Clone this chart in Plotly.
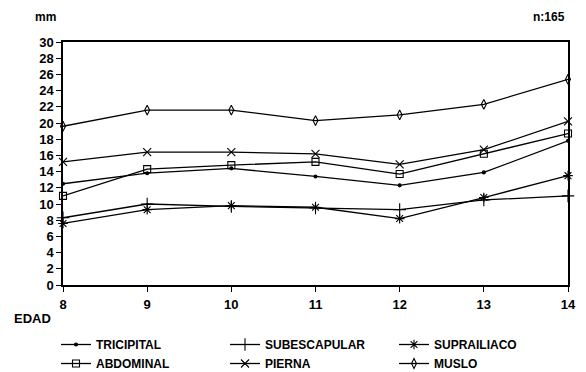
import plotly.graph_objects as go

edad = [8, 9, 10, 11, 12, 13, 14]
tricipital = [12.5, 13.8, 14.4, 13.4, 12.3, 13.9, 17.8]
subescapular = [8.3, 10.0, 9.7, 9.5, 9.3, 10.5, 11.0]
suprailiaco = [7.6, 9.3, 9.8, 9.6, 8.2, 10.8, 13.5]
abdominal = [11.0, 14.3, 14.8, 15.2, 13.7, 16.2, 18.7]
pierna = [15.2, 16.4, 16.4, 16.2, 14.9, 16.7, 20.2]
muslo = [19.6, 21.6, 21.6, 20.3, 21.0, 22.3, 25.4]

y_ticks = list(range(0, 31, 2))

series = [
    ("TRICIPITAL", tricipital, "circle", 3),
    ("SUBESCAPULAR", subescapular, "cross-thin-open", 9),
    ("SUPRAILIACO", suprailiaco, "asterisk-open", 8),
    ("ABDOMINAL", abdominal, "square-open", 7),
    ("PIERNA", pierna, "x-thin-open", 8),
    ("MUSLO", muslo, "diamond-tall-open", 7),
]

FONT = "Liberation Sans, Arial, sans-serif"

fig = go.Figure()
for name, vals, sym, size in series:
    fig.add_trace(go.Scatter(
        x=edad, y=vals, name=name, mode="lines+markers",
        line=dict(color="black", width=1.3),
        marker=dict(symbol=sym, size=size, color="black",
                    line=dict(color="black", width=1.1)),
        cliponaxis=False,
    ))

W, H = 586, 372
L, R, T, B = 63, 18, 42, 87
pw, ph = W - L - R, H - T - B

def px(x):
    return (x - L) / pw

def py(y):
    return (H - B - y) / ph

fig.update_layout(
    width=W, height=H,
    margin=dict(l=L, r=R, t=T, b=B, autoexpand=False),
    paper_bgcolor="white", plot_bgcolor="white",
    font=dict(family=FONT, size=12, color="black"),
    showlegend=True,
    legend=dict(
        orientation="h", x=px(56), y=py(330), xanchor="left", yanchor="top",
        entrywidth=124, entrywidthmode="pixels",
        font=dict(family=FONT, size=12, color="black", weight="bold"),
        bgcolor="rgba(0,0,0,0)", traceorder="normal",
    ),
    xaxis=dict(
        range=[8, 14], tickvals=edad, ticktext=[str(v) for v in edad],
        showline=True, linecolor="black", linewidth=1.5, mirror=True,
        ticks="outside", ticklen=5, tickcolor="black",
        showgrid=False, zeroline=False, ticklabelstandoff=2,
        tickfont=dict(family=FONT, size=13, weight="bold"),
    ),
    yaxis=dict(
        range=[0, 30], tickvals=y_ticks,
        showline=True, linecolor="black", linewidth=1.5, mirror=True,
        ticks="outside", ticklen=5, tickcolor="black",
        showgrid=False, zeroline=False,
        tickfont=dict(family=FONT, size=13, weight="bold"),
    ),
    annotations=[
        dict(text="<b>mm</b>", x=px(33), y=py(17), xref="paper", yref="paper",
             xanchor="left", yanchor="middle", showarrow=False,
             font=dict(family=FONT, size=12)),
        dict(text="<b>n:165</b>", x=px(567), y=py(17), xref="paper", yref="paper",
             xanchor="right", yanchor="middle", showarrow=False,
             font=dict(family=FONT, size=12)),
        dict(text="<b>EDAD</b>", x=px(12), y=py(318), xref="paper", yref="paper",
             xanchor="left", yanchor="middle", showarrow=False,
             font=dict(family=FONT, size=13)),
    ],
)

fig.write_html("out.html", config={"displayModeBar": False},
               post_script="document.body.style.margin='0';document.body.style.padding='0';")
